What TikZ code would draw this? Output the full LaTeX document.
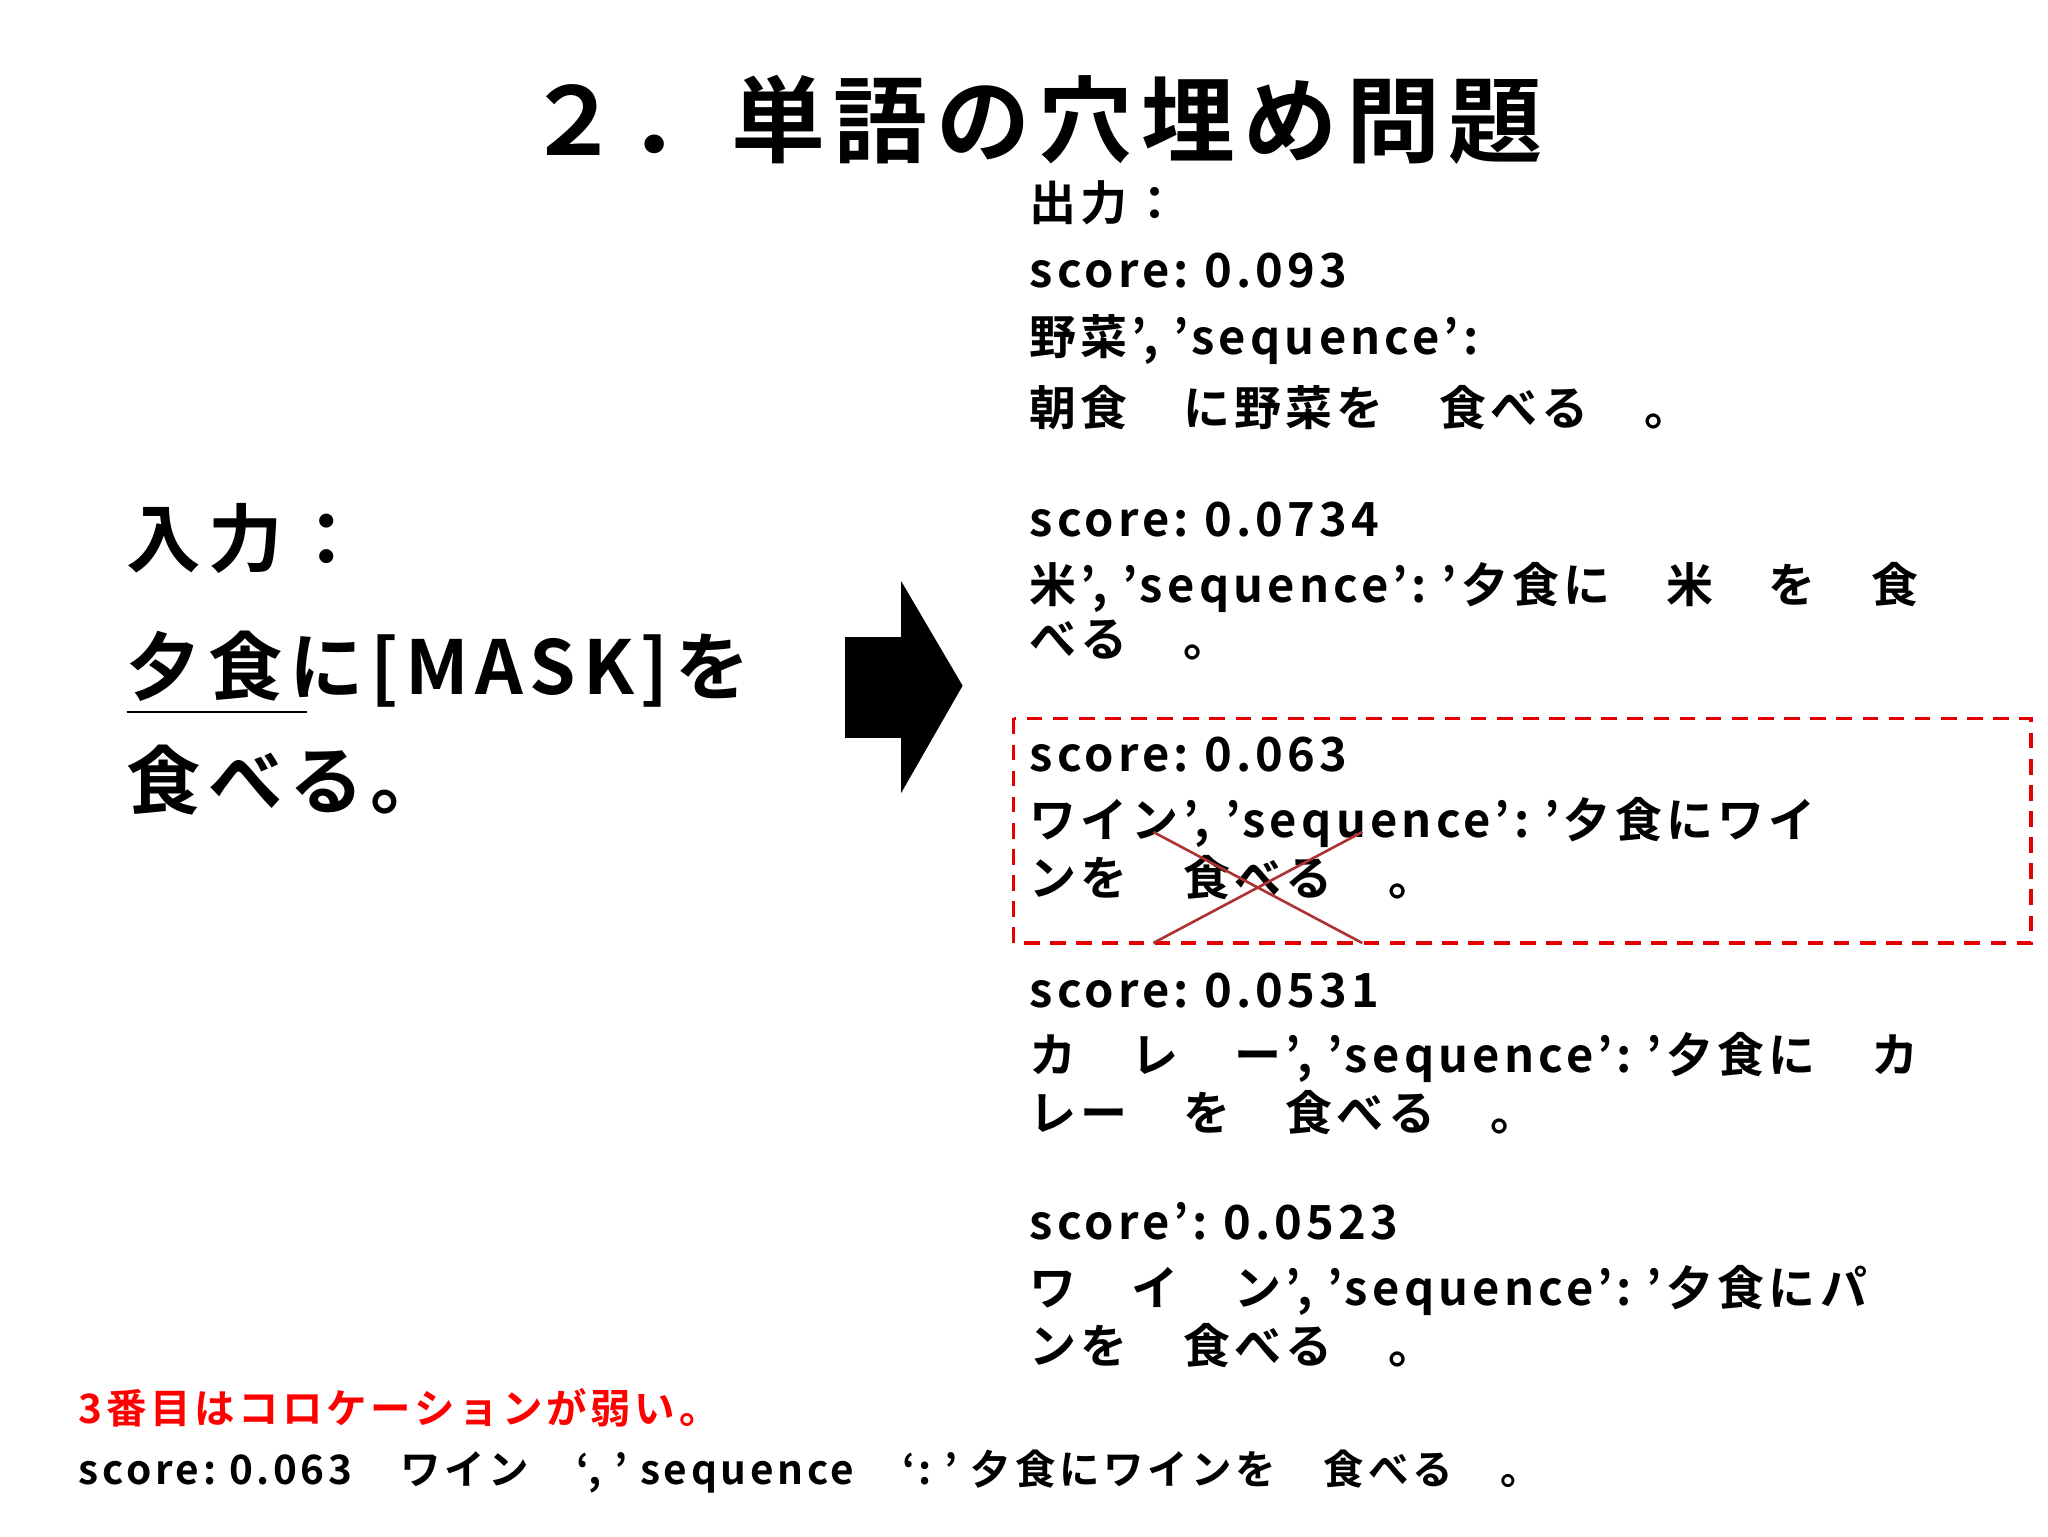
\documentclass[tikz,border=0pt]{standalone}
\usepackage{fontspec}
\setmainfont{Noto Sans CJK JP}[BoldFont={* Bold},LetterSpace=9]
\begin{document}
\begin{tikzpicture}[x=1pt,y=-1pt,
  rt/.style={anchor=west,inner sep=0pt,font=\fontsize{36}{40}\selectfont\bfseries},
  lt/.style={anchor=west,inner sep=0pt,font=\fontsize{57}{60}\selectfont\bfseries}]
\useasboundingbox (0,0) rectangle (1568,1176);
\node[inner sep=0pt,font=\fontsize{72}{74}\selectfont\bfseries] (title) at (792,92) {２．単語の穴埋め問題};
\node[lt] (in1) at (97,412) {入力：};
\node[lt] (in2) at (97,512) {夕食に[MASK]を};
\node[lt] (in3) at (97,597) {食べる。};
\draw[line width=2pt] (97,545) -- (235,545);
\fill (647,488) rectangle (691,565);
\fill (690,445) -- (737,525) -- (690,607) -- cycle;
\node[rt] (o1) at (788,155) {出力：};
\node[rt] (o2) at (788,207) {score:\ 0.093};
\node[rt] (o3) at (788,260) {野菜’,\ ’sequence’:};
\node[rt] (o4) at (788,312) {朝食　に野菜を　食べる　。};
\node[rt] (o5) at (788,398) {score:\ 0.0734};
\node[rt] (o6) at (788,450) {米’,\ ’sequence’:\ ’夕食に　米　を　食};
\node[rt] (o7) at (788,490) {べる　。};
\node[rt] (o8) at (788,578) {score:\ 0.063};
\node[rt] (o9) at (788,630) {ワイン’,\ ’sequence’:\ ’夕食にワイ};
\node[rt] (o10) at (788,672) {ンを　食べる　。};
\node[rt] (o11) at (788,758) {score:\ 0.0531};
\node[rt] (o12) at (788,810) {カ　レ　ー’,\ ’sequence’:\ ’夕食に　カ};
\node[rt] (o13) at (788,852) {レー　を　食べる　。};
\node[rt] (o14) at (788,935) {score’:\ 0.0523};
\node[rt] (o15) at (788,988) {ワ　イ　ン’,\ ’sequence’:\ ’夕食にパ};
\node[rt] (o16) at (788,1030) {ンを　食べる　。};
\draw[red!90!black,line width=2.5pt,dash pattern=on 12pt off 8pt] (776,550) rectangle (1555,722);
\draw[red!60!black!80,line width=2pt] (883,637) -- (1043,722) (883,722) -- (1043,637);
\node[anchor=west,inner sep=0pt,text=red,font=\fontsize{31}{34}\selectfont\bfseries] (n1) at (60,1078) {3番目はコロケーションが弱い。};
\node[anchor=west,inner sep=0pt,font=\fontsize{31}{34}\selectfont\bfseries] (n2) at (60,1127) {score:\ 0.063　ワイン　‘,\ ’\ sequence　‘:\ ’\ 夕食にワインを　食べる　。};
\end{tikzpicture}
\end{document}
